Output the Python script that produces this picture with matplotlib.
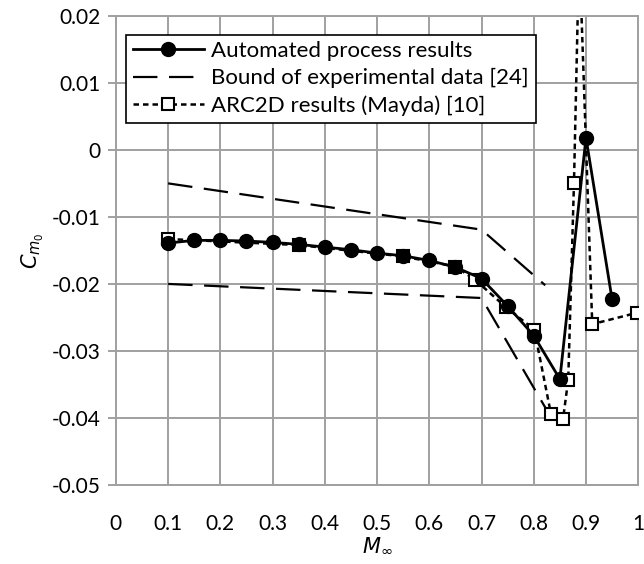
import matplotlib
matplotlib.use("Agg")
import matplotlib.pyplot as plt
import matplotlib.ticker as mticker

plt.rcParams["font.family"] = ["Lato", "DejaVu Sans"]

# Automated process results
auto_mach = [0.1, 0.15, 0.2, 0.25, 0.3, 0.35, 0.4, 0.45, 0.5, 0.55, 0.6, 0.65,
             0.7, 0.75, 0.8, 0.85, 0.9, 0.95]
auto_cm = [-0.0139, -0.0135, -0.0135, -0.0136, -0.0138, -0.0141, -0.0145, -0.0149,
           -0.0154, -0.0158, -0.0165, -0.0175, -0.0192, -0.0233, -0.0277, -0.0342,
           0.0018, -0.0223]

# Bounds of experimental data [24]
upper_mach = [0.1, 0.7, 0.822]
upper_cm = [-0.005, -0.0119, -0.0202]
lower_mach = [0.1, 0.7, 0.83]
lower_cm = [-0.020, -0.0221, -0.0395]

# ARC2D results (Mayda) [10]
arc_mach = [0.1, 0.35, 0.55, 0.65, 0.688, 0.747, 0.801, 0.833, 0.856, 0.866,
            0.877, 0.887, 0.912, 0.998]
arc_cm = [-0.0133, -0.0142, -0.0159, -0.0174, -0.0194, -0.0235, -0.0268, -0.0394,
          -0.0402, -0.0343, -0.005, 0.030, -0.026, -0.0243]

grid_c = "#a0a0a0"
bound_dash = (0, (11, 5.2))

fig = plt.figure(figsize=(6.44, 5.64), dpi=100)
ax = fig.add_axes([0.180, 0.140, 0.811, 0.832])

h_arc, = ax.plot(arc_mach, arc_cm, color="black", lw=1.8, ls=(0, (2.2, 1.6)),
                 marker="s", ms=8.5, mfc="white", mec="black", mew=1.5,
                 label="ARC2D results (Mayda) [10]", zorder=3)
h_bnd, = ax.plot(upper_mach, upper_cm, color="black", lw=1.6, ls=bound_dash,
                 label="Bound of experimental data [24]", zorder=2)
ax.plot(lower_mach, lower_cm, color="black", lw=1.6, ls=bound_dash, zorder=2)
h_auto, = ax.plot(auto_mach, auto_cm, color="black", lw=2, marker="o", ms=10,
                  label="Automated process results", zorder=4)

ax.set_xlim(0, 1)
ax.set_ylim(-0.05, 0.02)
ax.xaxis.set_major_locator(mticker.MultipleLocator(0.1))
ax.yaxis.set_major_locator(mticker.MultipleLocator(0.01))
ax.xaxis.set_major_formatter(mticker.FuncFormatter(lambda v, p: f"{v:.1f}".rstrip("0").rstrip(".") if v else "0"))
ax.yaxis.set_major_formatter(mticker.FuncFormatter(lambda v, p: f"{v:.2f}" if abs(v) > 1e-9 else "0"))

ax.grid(True, color=grid_c, lw=1.4)
ax.set_axisbelow(True)
for s in ax.spines.values():
    s.set_color(grid_c)
    s.set_linewidth(1.4)
ax.tick_params(axis="y", direction="out", length=6, color=grid_c, width=1.4,
               labelsize=15, pad=5)
ax.tick_params(axis="x", length=0, labelsize=15, pad=21)

ax.set_xlabel(r"$M_\infty$", fontsize=15, labelpad=1)
ax.set_ylabel(r"$C_{m_0}$", fontsize=15, labelpad=4)

leg = ax.legend(handles=[h_auto, h_bnd, h_arc], loc="upper left",
                bbox_to_anchor=(0.019, 0.96), fontsize=16, frameon=True,
                fancybox=False, edgecolor="black", framealpha=1,
                handlelength=3.2, borderpad=0.3, labelspacing=0.32,
                handletextpad=0.35, borderaxespad=0)
leg.get_frame().set_linewidth(1.2)

fig.savefig("out.png", dpi=100)
